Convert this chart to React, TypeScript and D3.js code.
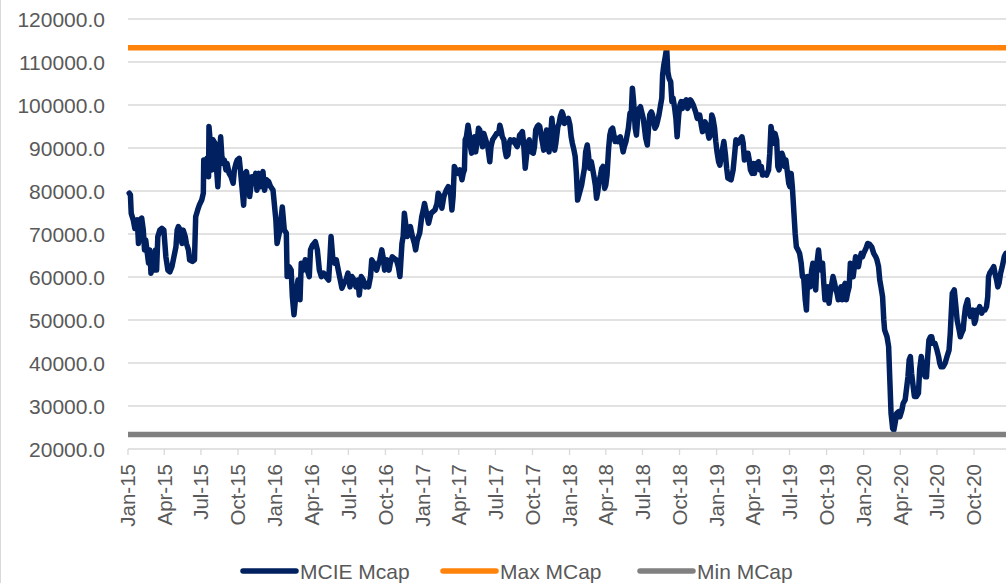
import React from "react";
import * as d3 from "d3";

const dates: string[] = [
"2015-01-04","2015-01-07","2015-01-09","2015-01-14","2015-01-18","2015-01-24","2015-01-27","2015-01-30","2015-02-04","2015-02-08","2015-02-11","2015-02-14","2015-02-18","2015-02-21","2015-02-24","2015-02-27","2015-03-03","2015-03-06","2015-03-10","2015-03-13","2015-03-16","2015-03-21","2015-03-26","2015-03-31","2015-04-05","2015-04-10","2015-04-15","2015-04-20","2015-04-25","2015-04-30","2015-05-03","2015-05-06","2015-05-11","2015-05-15","2015-05-18","2015-05-23","2015-05-26","2015-05-31","2015-06-03","2015-06-10","2015-06-15","2015-06-18","2015-06-23","2015-06-27","2015-07-03","2015-07-07","2015-07-08","2015-07-13","2015-07-16","2015-07-20","2015-07-21","2015-07-25","2015-07-28","2015-07-31","2015-08-05","2015-08-09","2015-08-12","2015-08-15","2015-08-19","2015-08-22","2015-08-25","2015-08-28","2015-09-01","2015-09-04","2015-09-09","2015-09-14","2015-09-19","2015-09-22","2015-09-26","2015-09-29","2015-10-04","2015-10-07","2015-10-10","2015-10-15","2015-10-19","2015-10-22","2015-10-27","2015-10-30","2015-11-02","2015-11-05","2015-11-09","2015-11-14","2015-11-17","2015-11-22","2015-11-26","2015-11-29","2015-12-02","2015-12-06","2015-12-11","2015-12-16","2015-12-21","2015-12-27",
"2016-01-03","2016-01-06","2016-01-13","2016-01-19","2016-01-24","2016-01-29","2016-01-31","2016-02-05","2016-02-10","2016-02-13","2016-02-17","2016-02-22","2016-02-27","2016-03-03","2016-03-06","2016-03-11","2016-03-16","2016-03-21","2016-03-26","2016-03-29","2016-04-03","2016-04-10","2016-04-15","2016-04-20","2016-04-25","2016-05-01","2016-05-06","2016-05-13","2016-05-16","2016-05-19","2016-05-23","2016-05-28","2016-06-01","2016-06-06","2016-06-15","2016-06-20","2016-06-25","2016-06-30","2016-07-05","2016-07-10","2016-07-15","2016-07-20","2016-07-25","2016-07-28","2016-08-02","2016-08-07","2016-08-12","2016-08-17","2016-08-20","2016-08-25","2016-08-28","2016-09-02","2016-09-09","2016-09-14","2016-09-17","2016-09-22","2016-09-25","2016-09-29","2016-10-02","2016-10-05","2016-10-10","2016-10-13","2016-10-18","2016-10-23","2016-10-28","2016-11-02","2016-11-06","2016-11-09","2016-11-11","2016-11-14","2016-11-17","2016-11-21","2016-11-24","2016-11-29","2016-12-02","2016-12-07","2016-12-12","2016-12-15","2016-12-19","2016-12-22","2016-12-25","2016-12-30",
"2017-01-03","2017-01-06","2017-01-11","2017-01-16","2017-01-22","2017-01-27","2017-02-01","2017-02-06","2017-02-09","2017-02-14","2017-02-18","2017-02-23","2017-03-01","2017-03-06","2017-03-11","2017-03-15","2017-03-18","2017-03-21","2017-03-25","2017-03-30","2017-04-04","2017-04-09","2017-04-12","2017-04-15","2017-04-17","2017-04-20","2017-04-24","2017-04-27","2017-04-30","2017-05-03","2017-05-07","2017-05-10","2017-05-13","2017-05-17","2017-05-20","2017-05-23","2017-05-27","2017-05-30","2017-06-02","2017-06-07","2017-06-12","2017-06-17","2017-06-20","2017-06-24","2017-06-29","2017-07-04","2017-07-09","2017-07-12","2017-07-15","2017-07-18","2017-07-22","2017-07-25","2017-07-28","2017-08-01","2017-08-04","2017-08-07","2017-08-12","2017-08-16","2017-08-19","2017-08-24","2017-08-27","2017-08-30","2017-09-03","2017-09-06","2017-09-09","2017-09-13","2017-09-16","2017-09-19","2017-09-23","2017-09-28","2017-10-03","2017-10-06","2017-10-09","2017-10-13","2017-10-16","2017-10-19","2017-10-23","2017-10-26","2017-10-29","2017-11-01","2017-11-05","2017-11-08","2017-11-11","2017-11-15","2017-11-18","2017-11-21","2017-11-25","2017-11-28","2017-12-03","2017-12-06","2017-12-09","2017-12-13","2017-12-16","2017-12-19","2017-12-23","2017-12-26","2017-12-29",
"2018-01-02","2018-01-05","2018-01-08","2018-01-12","2018-01-15","2018-01-18","2018-01-21","2018-01-31","2018-02-04","2018-02-07","2018-02-10","2018-02-14","2018-02-17","2018-02-20","2018-02-24","2018-02-27","2018-03-02","2018-03-06","2018-03-09","2018-03-12","2018-03-15","2018-03-19","2018-03-22","2018-03-25","2018-03-29","2018-04-01","2018-04-04","2018-04-08","2018-04-11","2018-04-14","2018-04-18","2018-04-21","2018-04-24","2018-04-28","2018-05-01","2018-05-04","2018-05-07","2018-05-11","2018-05-14","2018-05-17","2018-05-21","2018-05-24","2018-05-27","2018-05-31","2018-06-03","2018-06-06","2018-06-09","2018-06-13","2018-06-16","2018-06-19","2018-06-23","2018-06-26","2018-06-29","2018-07-03","2018-07-06","2018-07-09","2018-07-13","2018-07-16","2018-07-19","2018-07-23","2018-07-26","2018-07-29","2018-08-01","2018-08-05","2018-08-08","2018-08-11","2018-08-15","2018-08-18","2018-08-20","2018-08-23","2018-08-26","2018-08-30","2018-09-02","2018-09-05","2018-09-09","2018-09-12","2018-09-15","2018-09-19","2018-09-22","2018-09-25","2018-09-29","2018-10-02","2018-10-05","2018-10-08","2018-10-12","2018-10-15","2018-10-18","2018-10-21","2018-10-25","2018-10-28","2018-10-31","2018-11-04","2018-11-10","2018-11-14","2018-11-17","2018-11-20","2018-11-24","2018-11-27","2018-11-30","2018-12-03","2018-12-07","2018-12-10","2018-12-13","2018-12-17","2018-12-20","2018-12-23","2018-12-27","2018-12-30",
"2019-01-02","2019-01-06","2019-01-09","2019-01-16","2019-01-19","2019-01-23","2019-01-26","2019-01-29","2019-02-06","2019-02-11","2019-02-15","2019-02-18","2019-02-23","2019-02-28","2019-03-05","2019-03-08","2019-03-11","2019-03-15","2019-03-20","2019-03-23","2019-03-26","2019-03-30","2019-04-02","2019-04-05","2019-04-08","2019-04-12","2019-04-15","2019-04-18","2019-04-22","2019-04-25","2019-04-30","2019-05-05","2019-05-10","2019-05-13","2019-05-16","2019-05-20","2019-05-23","2019-05-26","2019-05-30","2019-06-02","2019-06-05","2019-06-09","2019-06-12","2019-06-15","2019-06-19","2019-06-22","2019-06-25","2019-06-29","2019-07-02","2019-07-05","2019-07-08","2019-07-12","2019-07-15","2019-07-18","2019-07-22","2019-07-26","2019-07-30","2019-08-02","2019-08-05","2019-08-09","2019-08-12","2019-08-15","2019-08-18","2019-08-21","2019-08-25","2019-08-28","2019-09-01","2019-09-04","2019-09-07","2019-09-11","2019-09-14","2019-09-17","2019-09-21","2019-09-24","2019-09-27","2019-10-01","2019-10-04","2019-10-07","2019-10-11","2019-10-14","2019-10-17","2019-10-21","2019-10-24","2019-10-27","2019-10-30","2019-11-03","2019-11-06","2019-11-09","2019-11-12","2019-11-16","2019-11-19","2019-11-22","2019-11-26","2019-11-29","2019-12-03","2019-12-06","2019-12-09","2019-12-12","2019-12-16","2019-12-19","2019-12-22","2019-12-26","2019-12-29",
"2020-01-01","2020-01-05","2020-01-08","2020-01-11","2020-01-16","2020-01-21","2020-01-26","2020-01-31","2020-02-03","2020-02-07","2020-02-10","2020-02-13","2020-02-17","2020-02-20","2020-02-22","2020-02-25","2020-02-28","2020-03-03","2020-03-06","2020-03-09","2020-03-13","2020-03-16","2020-03-19","2020-03-23","2020-03-28","2020-03-31","2020-04-05","2020-04-08","2020-04-13","2020-04-16","2020-04-20","2020-04-23","2020-04-26","2020-04-29","2020-05-03","2020-05-06","2020-05-11","2020-05-16","2020-05-19","2020-05-23","2020-05-26","2020-05-29","2020-06-02","2020-06-05","2020-06-08","2020-06-11","2020-06-15","2020-06-18","2020-06-21","2020-06-26","2020-07-01","2020-07-05","2020-07-08","2020-07-11","2020-07-16","2020-07-21","2020-07-26","2020-07-31","2020-08-03","2020-08-05","2020-08-08","2020-08-13","2020-08-17","2020-08-20","2020-08-25","2020-08-28","2020-08-31","2020-09-04","2020-09-07","2020-09-10","2020-09-15","2020-09-18","2020-09-22","2020-09-25","2020-09-28","2020-10-02","2020-10-05","2020-10-08","2020-10-12","2020-10-15","2020-10-20","2020-10-23","2020-10-28","2020-11-01","2020-11-04","2020-11-06","2020-11-09","2020-11-14","2020-11-19","2020-11-22","2020-11-26","2020-11-29","2020-12-02","2020-12-06","2020-12-10","2020-12-15","2020-12-19"
];

const mcap: number[] = [
79500,79100,74800,73300,71300,73300,67800,73300,73700,70900,66300,68600,65500,63200,66300,60900,64700,61600,66300,61600,69400,70900,71300,70900,64700,61600,61200,62400,64700,67000,70900,71700,70900,67800,70900,69400,67800,66300,64000,63600,64000,74000,75600,76700,77900,79500,87200,86400,87600,83300,95000,90300,84900,91900,91100,84900,81000,87200,92600,88000,86400,87200,84900,86400,84100,83300,81800,84900,86400,87200,87600,84900,81800,76700,84100,84500,81800,78700,81000,83300,81800,84100,80200,84100,81000,83300,84500,80200,82600,82200,81000,80200,
73300,67800,70900,76300,70900,70200,60100,62400,61600,55400,51200,56200,59300,54700,63200,61600,64000,61600,60100,66300,67400,68200,66300,61600,60100,60900,60100,59300,64000,69400,64700,63200,64000,61600,57400,58500,59300,60900,57700,60100,59300,57700,59300,55800,60100,59300,57700,58500,57700,60100,64000,63200,61600,63200,64000,66300,64700,61600,63200,64000,61600,63200,64700,64300,64000,62400,60100,64700,67800,69400,74800,71700,69400,70900,71700,69400,67800,66300,68600,69400,70200,74000,
75600,77100,74800,72500,74800,75200,75600,77100,79500,78700,76000,78700,80200,81000,80200,75600,78700,85700,84900,84100,84900,82600,84100,84900,91900,92600,95300,93400,90300,88800,91900,92600,89100,91900,94600,94200,91900,90300,93400,91900,90300,86800,90300,91900,92600,93400,93400,95300,94200,92600,91900,89500,88000,88400,91100,91900,91500,91900,91100,90300,91100,93000,93400,93800,91100,85300,88000,91100,91900,89100,88800,90300,94200,95000,95300,95000,92600,91100,89500,91900,94200,90700,89100,92600,96900,94200,89500,91100,95000,95700,97300,98400,97700,95700,96500,96100,96900,
95300,92600,91100,89500,88000,84100,77900,81400,83700,85300,89100,90700,88400,85300,86800,85300,83700,81400,78300,79800,82200,83700,85300,85700,80600,81400,83700,89900,93000,94200,94600,93000,91500,92300,91500,91900,92600,90700,89100,90300,91500,93000,94600,98100,97700,103900,100800,94600,93000,96900,99200,99600,98400,96900,94600,92300,90700,94600,97700,98400,97700,96100,94600,95300,96500,97700,100000,101600,107000,109300,110900,113300,107700,106200,105400,100800,101600,99200,96900,92600,97700,100000,100800,99200,100800,100000,101200,99200,100000,101200,100800,100000,98400,96900,97700,97700,95300,93800,95300,96100,95300,93800,92300,93000,97700,96900,94600,91500,
89100,86800,86000,89900,91500,88400,85300,83000,82600,84900,88800,91900,91100,91900,92600,91100,87200,88800,88800,87200,84900,84100,86400,84100,86400,85700,86800,84900,85700,83700,84100,83700,84900,88800,95000,92600,91100,93400,91900,85700,84900,87200,88800,88000,85700,87200,84900,81800,81000,84100,81000,74800,70200,67000,66300,65500,63200,60100,60100,54700,52300,60100,59300,57700,61600,63200,59300,57000,63200,66300,63200,61600,63200,58500,54700,57000,57700,53900,57000,58500,60100,58500,57000,56200,54700,57000,57700,54700,57700,58500,54700,56200,57700,63200,60900,60100,62400,64700,63200,62400,64000,65500,64700,
65500,66300,67000,67800,67600,67000,65500,64700,64000,62400,59300,57700,55400,50000,47700,46900,46100,43800,36000,28300,24800,24400,26000,28300,28700,27500,29100,30600,31400,33700,36800,40700,41500,37600,34500,32200,32200,33000,38400,41500,39900,37600,36800,36800,41500,45300,46100,46100,44600,44600,43000,41500,39900,39100,39100,39900,41500,43000,46900,50800,56200,57000,53100,50000,47700,46100,46900,47700,50800,53100,54700,52300,50800,51600,52300,49200,50000,52300,52300,53100,51600,52300,52300,53100,55400,60100,60900,61600,62400,60900,59300,57700,58500,60900,62400,64700,65500
];

const maxMcap = 113300;
const minMcap = 23400;
const yTicks = [20000, 30000, 40000, 50000, 60000, 70000, 80000, 90000, 100000, 110000, 120000];
const xTickLabels = [
  "Jan-15","Apr-15","Jul-15","Oct-15","Jan-16","Apr-16","Jul-16","Oct-16",
  "Jan-17","Apr-17","Jul-17","Oct-17","Jan-18","Apr-18","Jul-18","Oct-18",
  "Jan-19","Apr-19","Jul-19","Oct-19","Jan-20","Apr-20","Jul-20","Oct-20"
];
const seriesNames = ["MCIE Mcap", "Max MCap", "Min MCap"];
const seriesColors = ["#002060", "#ff820a", "#808080"];

const W = 1006;
const H = 583;
const FONT = "'Liberation Sans', Arial, sans-serif";
const TEXT = "#595959";
const GRID = "#d9d9d9";

export default function App() {
  const parse = d3.utcParse("%Y-%m-%d");
  const pts = dates.map((d, i) => ({ d: parse(d) as Date, v: mcap[i] }));
  const start = new Date(Date.UTC(2015, 0, 1));
  const end = new Date(Date.UTC(2021, 0, 1));
  const x = d3.scaleUtc().domain([start, end]).range([128, 1011.1]);
  const y = d3.scaleLinear().domain([20000, 120000]).range([449, 19]);
  const tickDates = d3.utcMonth.every(3)!.range(start, new Date(Date.UTC(2020, 11, 1)));
  const line = d3.line<{ d: Date; v: number }>().x((p) => x(p.d)).y((p) => y(p.v));
  const fmt = d3.format(".1f");
  const plotRight = W;

  const legendX = [243, 443, 640];

  return (
    <svg width={W} height={H} style={{ position: "absolute", left: 0, top: 0, background: "#fff" }}>
      <rect x={0} y={0} width={W} height={H} fill="#fff" />
      <line x1={0.5} x2={0.5} y1={0} y2={H} stroke={GRID} strokeWidth={1} />
      {yTicks.map((t) => (
        <g key={t}>
          <line x1={128} x2={plotRight} y1={y(t)} y2={y(t)} stroke={GRID} strokeWidth={1.3} />
          <text x={105} y={y(t)} dy="0.36em" textAnchor="end" fontFamily={FONT} fontSize={21} fill={TEXT}>
            {fmt(t)}
          </text>
        </g>
      ))}
      {tickDates.map((d, i) => (
        <g key={i}>
          <line x1={x(d)} x2={x(d)} y1={449} y2={455} stroke={GRID} strokeWidth={1.3} />
          <text
            transform={`translate(${x(d)},464) rotate(-90)`}
            dy="0.36em"
            textAnchor="end"
            fontFamily={FONT}
            fontSize={20.5}
            fill={TEXT}
          >
            {xTickLabels[i]}
          </text>
        </g>
      ))}
      <path d={line(pts) || ""} fill="none" stroke={seriesColors[0]} strokeWidth={5.5} strokeLinejoin="round" strokeLinecap="round" />
      <line x1={128} x2={plotRight} y1={y(maxMcap)} y2={y(maxMcap)} stroke={seriesColors[1]} strokeWidth={5.5} />
      <line x1={128} x2={plotRight} y1={y(minMcap)} y2={y(minMcap)} stroke={seriesColors[2]} strokeWidth={5.5} />
      {seriesNames.map((n, i) => (
        <g key={n}>
          <line x1={legendX[i]} x2={legendX[i] + 53} y1={571} y2={571} stroke={seriesColors[i]} strokeWidth={5.5} strokeLinecap="round" />
          <text x={legendX[i] + 57} y={571} dy="0.36em" fontFamily={FONT} fontSize={21} fill={TEXT}>
            {n}
          </text>
        </g>
      ))}
    </svg>
  );
}
